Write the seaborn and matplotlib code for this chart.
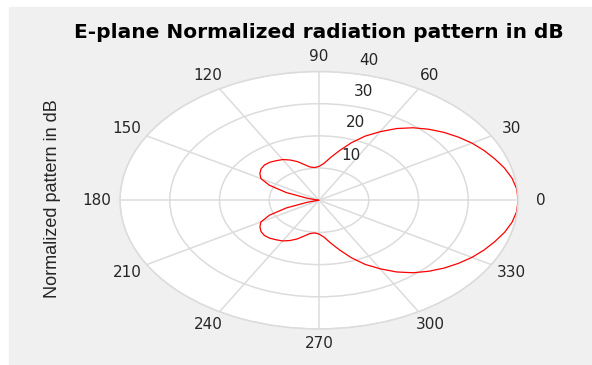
import numpy as np
import pandas as pd
import matplotlib
matplotlib.use('Agg')
import matplotlib.pyplot as plt
from matplotlib.patches import Rectangle
import seaborn as sns

# Pattern, every 5 degrees (dB + 40 offset)
ANGLES_DEG = list(range(0, 365, 5))
PATTERN_DB = [
    40.0, 39.9, 39.4, 38.6, 37.6, 36.6, 35.5, 34.2, 32.8, 31.2,
    29.4, 27.2, 24.6, 22.0, 19.0, 16.0, 13.5, 11.5, 10.5, 10.2,
    10.5, 11.5, 12.8, 13.8, 14.6, 15.0, 15.4, 15.5, 15.2, 14.5,
    13.5, 11.0, 7.0, 2.5, 0.3, 0.0, 0.0,
    0.0, 0.3, 2.5, 7.0, 11.0, 13.5, 14.5, 15.2, 15.5, 15.4,
    15.0, 14.6, 13.8, 12.8, 11.5, 10.5, 10.2, 10.5, 11.5, 13.5,
    16.0, 19.0, 22.0, 24.6, 27.2, 29.4, 31.2, 32.8, 34.2, 35.5,
    36.6, 37.6, 38.6, 39.4, 39.9, 40.0,
]
THETA_TICKS = list(range(0, 360, 30))
R_TICKS = [10, 20, 30, 40]
# where the radial labels sit (angle deg, radius)
R_LABEL_POS = [(65, 15.2), (73, 25.1), (75, 34.9), (77, 44.6)]

TITLE = 'E-plane Normalized radiation pattern in dB'
YLABEL = 'Normalized pattern in dB'
TEXT_COLOR = '#262626'
GRID_COLOR = '#dcdcdc'

W, H = 592, 365

df = pd.DataFrame({'theta': np.deg2rad(ANGLES_DEG), 'r': PATTERN_DB})

fig = plt.figure(figsize=(W / 100, H / 100), dpi=100, facecolor='white')
fig.patches.append(Rectangle((9 / W, 1 / H), 583 / W, 357 / H,
                             transform=fig.transFigure, color='#f0f0f0', zorder=-1))

ax = fig.add_axes([120 / W, (H - 329) / H, 398 / W, 257.5 / H], projection='polar')
ax.set_aspect('auto')
ax.set_facecolor('white')

sns.lineplot(data=df, x='theta', y='r', ax=ax, color='red', linewidth=0.9, sort=False)

ax.set_ylim(0, 40)
ax.set_xticks(np.deg2rad(THETA_TICKS))
ax.set_xticklabels([])
ax.set_yticks(R_TICKS)
ax.set_yticklabels([])
ax.set_xlabel('')
ax.set_ylabel('')
ax.grid(True, color=GRID_COLOR, linewidth=1.1)
ax.spines['polar'].set_color(GRID_COLOR)
ax.spines['polar'].set_linewidth(1.1)
ax.tick_params(length=0)

for a in THETA_TICKS:
    ax.text(np.deg2rad(a), 44.6, str(a), ha='center', va='center',
            fontsize=11, color=TEXT_COLOR, family='DejaVu Sans')

for val, (a, r) in zip(R_TICKS, R_LABEL_POS):
    ax.text(np.deg2rad(a), r, str(val), ha='center', va='center',
            fontsize=11, color=TEXT_COLOR, family='DejaVu Sans')

fig.text(319 / W, 1 - 32.5 / H, TITLE, ha='center', va='center',
         fontsize=14.5, fontweight='bold', color='black', family='DejaVu Sans')
fig.text(52.5 / W, 1 - 198.5 / H, YLABEL, rotation=90, ha='center', va='center',
         fontsize=13, color=TEXT_COLOR, family='Liberation Sans')

fig.savefig('out.png', dpi=100, facecolor='white')
